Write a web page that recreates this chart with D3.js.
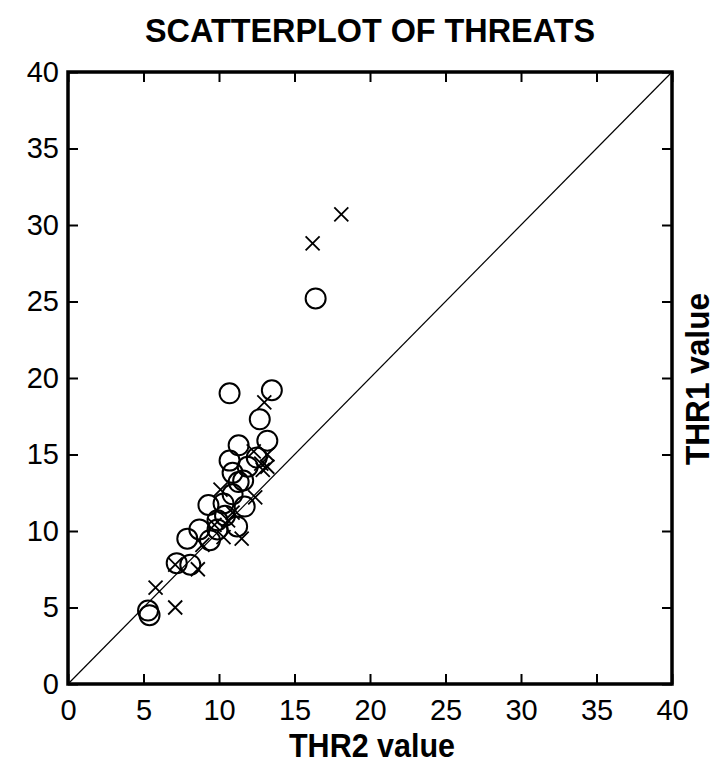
<!DOCTYPE html>
<html>
  <head>
    <meta charset='utf-8'>
    <title>Scatterplot of threats</title>
    <script src='https://d3js.org/d3.v7.min.js'></script>
    <style>
      body { margin: 0; background: #fff; }
      text { font-family: 'Liberation Sans Narrow', 'Liberation Sans', sans-serif; fill: #000; }
    </style>
  </head>

  <body>
    <div id='grafico'></div>
    <script>
    // Datos: THR2 (x) y THR1 (y)
    const circleX = [10.7, 13.5, 12.7, 13.2, 11.3, 10.7, 10.9, 11.6, 11.9, 11.3, 12.5, 10.3, 9.3, 11.7, 9.9, 11.2, 8.7, 7.9, 9.4, 7.2, 8.1, 5.3, 5.4, 16.4, 10.4, 10.9, 9.9];
    const circleY = [19.0, 19.2, 17.3, 15.9, 15.6, 14.6, 13.8, 13.3, 14.2, 13.2, 14.8, 11.8, 11.7, 11.6, 10.7, 10.3, 10.1, 9.5, 9.4, 7.9, 7.8, 4.8, 4.5, 25.2, 11.0, 12.4, 10.1];
    const crossX = [18.1, 16.2, 13.0, 12.3, 12.8, 12.9, 12.4, 10.1, 10.9, 10.3, 11.5, 8.9, 10.6, 9.7, 7.1, 8.6, 5.8, 7.1, 13.2, 13.2];
    const crossY = [30.7, 28.8, 18.4, 15.2, 14.4, 14.0, 12.2, 12.7, 11.2, 9.6, 9.5, 9.1, 10.7, 10.4, 7.8, 7.5, 6.3, 5.0, 15.0, 14.2];
    const ticks = [0, 5, 10, 15, 20, 25, 30, 35, 40];

    const W = 715, H = 768;
    const margin = { top: 72, right: 43, bottom: 84, left: 68 };
    const width  = W - margin.left - margin.right,
          height = H - margin.top - margin.bottom;

    const svg = d3.select('#grafico').append('svg')
                  .attr('width', W)
                  .attr('height', H);
    const g = svg.append('g')
                 .attr('transform', 'translate(' + margin.left + ',' + margin.top + ')');

    // Escalas
    const xScale = d3.scaleLinear().domain([0, 40]).range([0, width]);
    const yScale = d3.scaleLinear().domain([0, 40]).range([height, 0]);

    // Ejes con ticks hacia dentro
    const axes = [
      { axis: d3.axisBottom(xScale), t: 'translate(0,' + height + ')', labels: true, pad: 15 },
      { axis: d3.axisTop(xScale), t: null, labels: false, pad: 0 },
      { axis: d3.axisLeft(yScale), t: null, labels: true, pad: 9 },
      { axis: d3.axisRight(yScale), t: 'translate(' + width + ',0)', labels: false, pad: 0 }
    ];
    axes.forEach(a => {
      a.axis.tickValues(ticks).tickSizeInner(-10).tickSizeOuter(0).tickPadding(a.pad);
      const ax = g.append('g').attr('transform', a.t).call(a.axis);
      ax.select('.domain').remove();
      ax.selectAll('line').attr('stroke', '#000').attr('stroke-width', 2);
      if (a.labels) {
        ax.selectAll('text').style('font-size', '29px').style('font-family', null)
          .attr('fill', '#111');
      } else {
        ax.selectAll('text').remove();
      }
    });

    // Marco
    g.append('rect')
      .attr('width', width).attr('height', height)
      .attr('fill', 'none').attr('stroke', '#000').attr('stroke-width', 3.5);

    // Diagonal
    g.append('line')
      .attr('x1', xScale(0)).attr('y1', yScale(0))
      .attr('x2', xScale(40)).attr('y2', yScale(40))
      .attr('stroke', '#000').attr('stroke-width', 1.2);

    // Círculos
    g.selectAll('circle.pt')
      .data(circleX.map((x, i) => [x, circleY[i]])).enter().append('circle')
      .attr('class', 'pt')
      .attr('cx', d => xScale(d[0]))
      .attr('cy', d => yScale(d[1]))
      .attr('r', 10)
      .attr('fill', 'none').attr('stroke', '#000').attr('stroke-width', 2);

    // Cruces
    const s = 7;
    g.selectAll('path.cross')
      .data(crossX.map((x, i) => [x, crossY[i]])).enter().append('path')
      .attr('class', 'cross')
      .attr('d', d => {
        const cx = xScale(d[0]), cy = yScale(d[1]);
        return 'M' + (cx - s) + ',' + (cy - s) + 'L' + (cx + s) + ',' + (cy + s) +
               'M' + (cx - s) + ',' + (cy + s) + 'L' + (cx + s) + ',' + (cy - s);
      })
      .attr('stroke', '#000').attr('stroke-width', 1.8);

    // Títulos
    svg.append('text')
      .attr('x', 370).attr('y', 42)
      .attr('text-anchor', 'middle')
      .attr('textLength', 450).attr('lengthAdjust', 'spacingAndGlyphs')
      .style('font-size', '33px').style('font-weight', 'bold')
      .text('SCATTERPLOT OF THREATS');

    svg.append('text')
      .attr('x', 372).attr('y', 757)
      .attr('text-anchor', 'middle')
      .attr('textLength', 166).attr('lengthAdjust', 'spacingAndGlyphs')
      .style('font-size', '33px').style('font-weight', 'bold')
      .text('THR2 value');

    svg.append('text')
      .attr('transform', 'translate(709,379) rotate(-90)')
      .attr('text-anchor', 'middle')
      .attr('textLength', 172).attr('lengthAdjust', 'spacingAndGlyphs')
      .style('font-size', '33px').style('font-weight', 'bold')
      .text('THR1 value');
    </script>
  </body>
</html>
